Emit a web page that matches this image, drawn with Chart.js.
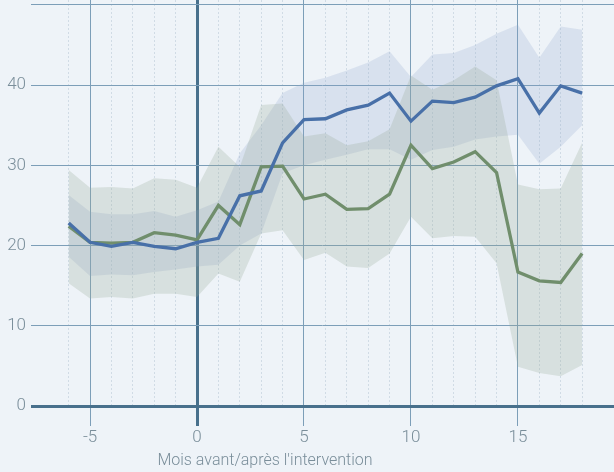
<!DOCTYPE html>
<html>
<head>
<meta charset="utf-8">
<script src="https://cdn.jsdelivr.net/npm/chart.js@4/dist/chart.umd.min.js"></script>
<style>
  html, body { margin: 0; padding: 0; background: #eef3f8; }
  #wrap { width: 614px; height: 472px; position: relative; }
</style>
</head>
<body>
<div id="wrap"><canvas id="c"></canvas></div>
<script>
// Months relative to the intervention
const months = [-6,-5,-4,-3,-2,-1,0,1,2,3,4,5,6,7,8,9,10,11,12,13,14,15,16,17,18];

// Blue series and its interval
const blueMean  = [22.8,20.4,19.9,20.4,19.9,19.6,20.4,20.9,26.2,26.8,32.8,35.7,35.8,36.9,37.5,39.0,35.5,38.0,37.8,38.5,39.9,40.8,36.5,39.9,39.0];
const blueLow   = [18.6,16.2,16.4,16.3,16.7,17.0,17.4,17.6,20.0,21.5,29.0,30.0,30.7,31.3,32.0,32.0,30.7,31.9,32.3,33.2,33.6,33.8,30.2,32.3,35.0];
const blueHigh  = [26.3,24.2,23.9,23.9,24.3,23.6,24.4,25.5,31.5,35.0,39.0,40.3,40.9,41.8,42.8,44.2,41.0,43.8,44.0,45.0,46.4,47.5,43.4,47.3,46.9];

// Green series and its interval
const greenMean = [22.4,20.4,20.3,20.4,21.6,21.3,20.7,25.0,22.6,29.8,29.9,25.8,26.4,24.5,24.6,26.4,32.5,29.6,30.4,31.7,29.1,16.7,15.6,15.4,19.0];
const greenLow  = [15.3,13.4,13.6,13.4,14.0,14.0,13.6,16.5,15.5,21.5,21.9,18.2,19.1,17.4,17.2,19.0,23.6,20.9,21.2,21.1,17.8,4.9,4.1,3.7,5.1];
const greenHigh = [29.4,27.2,27.3,27.1,28.4,28.2,27.2,32.3,29.8,37.5,37.7,33.6,34.0,32.5,33.0,34.5,41.2,39.4,40.6,42.3,40.6,27.6,27.0,27.1,32.8];

// Axis ticks
const xTicks = [-6,-5,-4,-3,-2,-1,0,1,2,3,4,5,6,7,8,9,10,11,12,13,14,15,16,17,18];
const yTicks = [0,10,20,30,40,50];
const xTitle = "Mois avant/après l'intervention";

const BG = '#eef3f8';
const AXIS = 'rgb(72,112,140)';
const GRID = 'rgb(124,158,184)';
const MINOR = 'rgb(208,219,229)';
const LABEL = 'rgb(122,142,154)';
const FONT = 'Roboto, Lato, sans-serif';

const pts = arr => months.map((m, i) => ({ x: m, y: arr[i] }));

const bgPlugin = {
  id: 'bg',
  beforeDraw(chart) {
    const ctx = chart.ctx;
    ctx.save();
    ctx.fillStyle = BG;
    ctx.fillRect(0, 0, chart.width, chart.height);
    ctx.restore();
  }
};

const axisTitlePlugin = {
  id: 'axisTitle',
  afterDraw(chart) {
    const ctx = chart.ctx;
    ctx.save();
    ctx.font = '300 16px ' + FONT;
    ctx.fillStyle = LABEL;
    ctx.textAlign = 'center';
    ctx.textBaseline = 'middle';
    ctx.fillText(xTitle, 265, 461);
    ctx.restore();
  }
};

const band = (arr, color, fill) => ({
  data: pts(arr),
  borderWidth: 0,
  pointRadius: 0,
  backgroundColor: color,
  fill: fill,
  order: 1
});

new Chart(document.getElementById('c'), {
  type: 'line',
  data: {
    datasets: [
      { data: pts(blueMean), borderColor: 'rgb(72,112,168)', borderWidth: 3.3, pointRadius: 0, fill: false, order: 0 },
      { data: pts(greenMean), borderColor: 'rgb(112,142,108)', borderWidth: 3.3, pointRadius: 0, fill: false, order: 0 },
      band(greenLow, 'rgba(0,0,0,0)', false),
      band(greenHigh, 'rgba(150,170,150,0.26)', '-1'),
      band(blueLow, 'rgba(0,0,0,0)', false),
      band(blueHigh, 'rgba(140,165,205,0.22)', '-1')
    ]
  },
  options: {
    responsive: true,
    maintainAspectRatio: false,
    animation: false,
    layout: { padding: 0 },
    plugins: { legend: { display: false }, tooltip: { enabled: false } },
    elements: { line: { tension: 0, borderJoinStyle: 'miter' } },
    scales: {
      x: {
        type: 'linear',
        min: -7.76,
        max: 19.49,
        afterBuildTicks(scale) { scale.ticks = xTicks.map(v => ({ value: v })); },
        afterFit(scale) {
          scale.height = 66;
          scale.paddingLeft = 0; scale.paddingRight = 0;
        },
        border: {
          display: false,
          dash: ctx => (ctx.tick && ctx.tick.value % 5 !== 0) ? [2, 2] : []
        },
        grid: {
          color: ctx => ctx.tick.value === 0 ? AXIS : (ctx.tick.value % 5 === 0 ? GRID : MINOR),
          lineWidth: ctx => ctx.tick.value === 0 ? 3 : 1,
          tickColor: ctx => ctx.tick.value === 0 ? AXIS : (ctx.tick.value % 5 === 0 ? GRID : 'rgba(0,0,0,0)'),
          tickWidth: ctx => ctx.tick.value === 0 ? 3 : 1,
          tickLength: 20
        },
        ticks: {
          autoSkip: false,
          maxRotation: 0,
          padding: 2,
          color: LABEL,
          font: { family: FONT, size: 17, weight: 300 },
          callback: v => (v % 5 === 0 ? String(v) : '')
        }
      },
      y: {
        type: 'linear',
        min: 0,
        max: 50.6,
        afterBuildTicks(scale) { scale.ticks = yTicks.map(v => ({ value: v })); },
        afterFit(scale) {
          scale.width = 31;
          scale.paddingTop = 0; scale.paddingBottom = 0;
        },
        border: { display: false },
        grid: {
          color: ctx => ctx.tick.value === 0 ? AXIS : GRID,
          lineWidth: ctx => ctx.tick.value === 0 ? 3 : 1,
          drawTicks: false
        },
        ticks: {
          padding: 5,
          color: LABEL,
          font: { family: FONT, size: 17, weight: 300 },
          callback: v => (v === 50 ? '' : String(v))
        }
      }
    }
  },
  plugins: [bgPlugin, axisTitlePlugin]
});
</script>
</body>
</html>
